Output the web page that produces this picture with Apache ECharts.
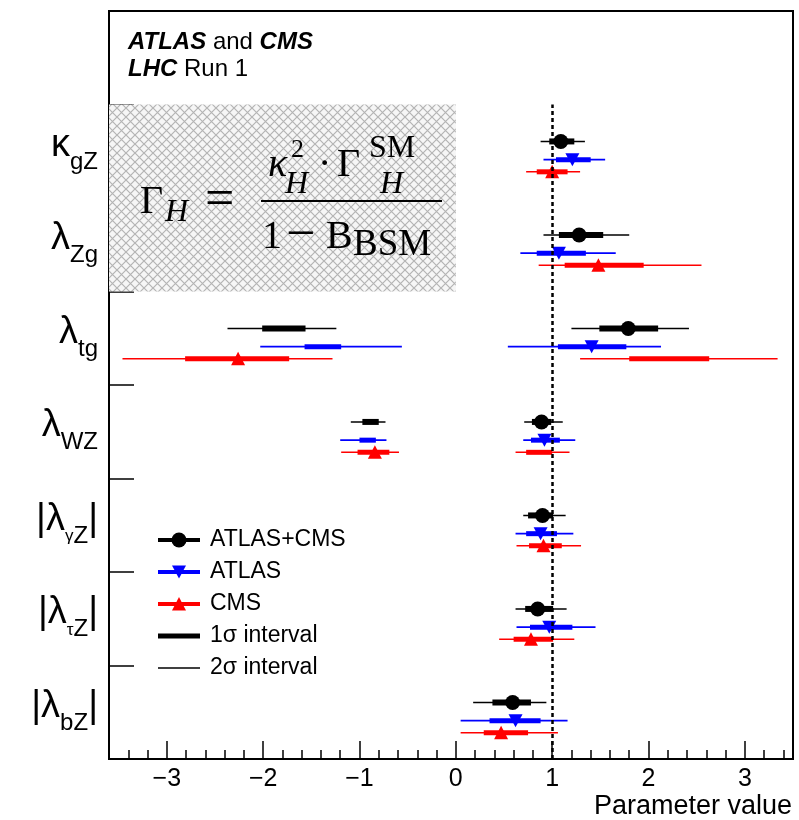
<!DOCTYPE html>
<html>
<head>
<meta charset="utf-8">
<script src="https://cdn.jsdelivr.net/npm/echarts@6/dist/echarts.min.js"></script>
<style>
  html, body { margin: 0; padding: 0; background: #fff; }
  #chart { width: 799px; height: 820px; }
</style>
</head>
<body>
<div id="chart"></div>
<script>
// Coupling-ratio parameters, listed from the bottom row to the top row
const rowGreek = ['λ', 'λ', 'λ', 'λ', 'λ', 'λ', 'κ'];
const rowSubGreek = ['', 'τ', 'γ', '', '', '', ''];
const rowSub = ['bZ', 'Z', 'Z', 'WZ', 'tg', 'Zg', 'gZ'];
const rowAbs = [true, true, true, false, false, false, false];

// ATLAS+CMS combination: best fit, 1σ and 2σ intervals (may be split in two branches)
const combBest = [0.59, 0.85, 0.90, 0.89, 1.79, 1.28, 1.09];
const comb1s = [[[0.38, 0.78]], [[0.72, 1.01]], [[0.75, 1.01]], [[-0.97, -0.80], [0.79, 0.99]], [[-2.01, -1.56], [1.49, 2.10]], [[1.07, 1.53]], [[0.97, 1.23]]];
const comb2s = [[[0.18, 0.94]], [[0.62, 1.15]], [[0.70, 1.14]], [[-1.09, -0.73], [0.71, 1.11]], [[-2.37, -1.24], [1.20, 2.42]], [[0.91, 1.80]], [[0.88, 1.34]]];

// ATLAS
const atlasBest = [0.62, 0.97, 0.88, 0.92, 1.41, 1.07, 1.21];
const atlas1s = [[[0.35, 0.88]], [[0.77, 1.21]], [[0.73, 1.05]], [[-1.00, -0.83], [0.78, 1.08]], [[-1.57, -1.19], [1.06, 1.77]], [[0.84, 1.35]], [[1.04, 1.40]]];
const atlas2s = [[[0.05, 1.16]], [[0.63, 1.45]], [[0.62, 1.22]], [[-1.20, -0.72], [0.70, 1.24]], [[-2.03, -0.56], [0.54, 2.13]], [[0.67, 1.66]], [[0.91, 1.55]]];

// CMS
const cmsBest = [0.47, 0.78, 0.91, -0.84, -2.26, 1.48, 1.00];
const cms1s = [[[0.29, 0.75]], [[0.60, 1.01]], [[0.76, 1.10]], [[-1.02, -0.69], [0.73, 1.00]], [[-2.81, -1.73], [1.80, 2.63]], [[1.13, 1.95]], [[0.84, 1.16]]];
const cms2s = [[[0.05, 1.06]], [[0.45, 1.23]], [[0.63, 1.30]], [[-1.19, -0.59], [0.62, 1.18]], [[-3.46, -1.28], [1.29, 3.34]], [[0.86, 2.55]], [[0.73, 1.29]]];

// Axis ticks
const majorTicks = [-3, -2, -1, 0, 1, 2, 3];
const minorTicks = [-3.4, -3.2, -2.8, -2.6, -2.4, -2.2, -1.8, -1.6, -1.4, -1.2, -0.8, -0.6, -0.4, -0.2,
  0.2, 0.4, 0.6, 0.8, 1.2, 1.4, 1.6, 1.8, 2.2, 2.4, 2.6, 2.8, 3.2, 3.4];

const FONT = '"Liberation Sans", Arial, Helvetica, sans-serif';
const SERIF = '"Liberation Serif", "Times New Roman", serif';

// y-axis category labels built as rich text with subscripts
const yLabels = rowGreek.map((g, i) => {
  const bar = rowAbs[i] ? '|' : '';
  const sg = rowSubGreek[i] ? '{sg|' + rowSubGreek[i] + '}' : '';
  return '{g|' + bar + g + '}' + sg + '{s|' + rowSub[i] + '}' + (bar ? '{g|' + bar + '}' : '');
});
yLabels.push('');

// crosshatch fill
function hatchPattern() {
  const n = 9;
  const c = document.createElement('canvas');
  c.width = n; c.height = n;
  const ctx = c.getContext('2d');
  ctx.fillStyle = '#f6f6f6';
  ctx.fillRect(0, 0, n, n);
  ctx.strokeStyle = '#b4b4b4';
  ctx.lineWidth = 1.2;
  ctx.beginPath();
  ctx.moveTo(-1, -1); ctx.lineTo(n + 1, n + 1);
  ctx.moveTo(n + 1, -1); ctx.lineTo(-1, n + 1);
  ctx.stroke();
  return { image: c, repeat: 'repeat' };
}

function markerShape(kind, x, y, color, z) {
  const base = { z: z || 0, style: { fill: color } };
  if (kind === 'circle') {
    return Object.assign(base, { type: 'circle', shape: { cx: x, cy: y, r: 7.5 } });
  }
  if (kind === 'down') {
    return Object.assign(base, { type: 'polygon', shape: { points: [[x - 7, y - 6.5], [x + 7, y - 6.5], [x, y + 6.5]] } });
  }
  return Object.assign(base, { type: 'polygon', shape: { points: [[x - 7, y + 6.5], [x + 7, y + 6.5], [x, y - 7]] } });
}

function errorSeries(name, best, s1, s2, offset, marker, color, thickW) {
  return {
    name: name,
    type: 'custom',
    xAxisIndex: 0,
    yAxisIndex: 0,
    z: 3,
    silent: true,
    data: best.map((b, i) => [b, i + offset]),
    renderItem: function (params, api) {
      const i = params.dataIndex;
      const yv = i + offset;
      const children = [];
      s2[i].forEach(seg => {
        const a = api.coord([seg[0], yv]);
        const b = api.coord([seg[1], yv]);
        children.push({ type: 'line', shape: { x1: a[0], y1: a[1], x2: b[0], y2: b[1] }, style: { stroke: color, lineWidth: 1.6 } });
      });
      s1[i].forEach(seg => {
        const a = api.coord([seg[0], yv]);
        const b = api.coord([seg[1], yv]);
        children.push({ type: 'line', shape: { x1: a[0], y1: a[1], x2: b[0], y2: b[1] }, style: { stroke: color, lineWidth: thickW } });
      });
      const p = api.coord([best[i], yv]);
      children.push(markerShape(marker, p[0], p[1], color));
      return { type: 'group', children: children };
    }
  };
}

// legend drawn as a small block of graphic elements
function legendRow(y, kind, color, lw, label) {
  const ch = [
    { type: 'line', z: 20, shape: { x1: 158, y1: y, x2: 200, y2: y }, style: { stroke: color, lineWidth: lw } },
    { type: 'text', z: 20, style: { text: label, x: 210, y: y, textVerticalAlign: 'middle', font: '23px ' + FONT, fill: '#000' } }
  ];
  if (kind) ch.push(markerShape(kind, 179, y, color, 21));
  return ch;
}

const legendChildren = [].concat(
  legendRow(540, 'circle', '#000', 4, 'ATLAS+CMS'),
  legendRow(572, 'down', '#0000ff', 4, 'ATLAS'),
  legendRow(604, 'up', '#ff0000', 4, 'CMS'),
  legendRow(636, null, '#000', 5, '1σ interval'),
  legendRow(668, null, '#000', 1.5, '2σ interval')
);

// Γ_H formula pieces: [text, x, baseline, size, italic]
const formulaPieces = [
  ['Γ', 140, 213, 40, false],
  ['H', 165, 221, 32, true],
  ['=', 205, 215, 52, false],
  ['κ', 268, 176, 40, true],
  ['2', 291, 157, 26, false],
  ['H', 285, 193, 32, true],
  ['·', 318, 176, 40, false],
  ['Γ', 337, 176, 40, false],
  ['SM', 369, 157, 32, false],
  ['H', 380, 193, 32, true],
  ['1', 262, 248, 40, false],
  ['−', 286, 250, 52, false],
  ['B', 326, 248, 40, false],
  ['BSM', 353, 255, 37, false]
];
// text is placed from its top edge; the baseline sits about 0.76 em below it
const formulaChildren = formulaPieces.map(p => ({
  type: 'text',
  z: 20,
  style: {
    text: p[0], x: p[1], y: p[2] - 0.76 * p[3], textVerticalAlign: 'top',
    font: (p[4] ? 'italic ' : '') + p[3] + 'px ' + SERIF, fill: '#000'
  }
}));
formulaChildren.push({ type: 'line', z: 20, shape: { x1: 261, y1: 201, x2: 442, y2: 201 }, style: { stroke: '#000', lineWidth: 2 } });

const chart = echarts.init(document.getElementById('chart'), null, { renderer: 'canvas' });

chart.setOption({
  backgroundColor: '#fff',
  animation: false,
  grid: { left: 109, right: 6, top: 11, bottom: 61, show: true, borderColor: '#000', borderWidth: 2, containLabel: false },
  xAxis: [
    {
      type: 'value', min: -3.6, max: 3.5, position: 'bottom',
      axisLine: { show: true, onZero: false, lineStyle: { color: '#000', width: 2 } },
      axisTick: { show: true, inside: true, length: 18, customValues: majorTicks, lineStyle: { color: '#000', width: 1.5 } },
      axisLabel: {
        show: true, customValues: majorTicks, margin: 8, color: '#000', fontSize: 25, fontFamily: FONT,
        formatter: v => (v < 0 ? '−' + Math.abs(v) : String(v))
      },
      splitLine: { show: false }
    },
    {
      type: 'value', min: -3.6, max: 3.5, position: 'bottom',
      axisLine: { show: false, onZero: false },
      axisTick: { show: true, inside: true, length: 9, customValues: minorTicks, lineStyle: { color: '#000', width: 1.5 } },
      axisLabel: { show: false },
      splitLine: { show: false }
    }
  ],
  yAxis: [
    {
      type: 'value', min: 0, max: 8, interval: 1, position: 'left',
      axisLine: { show: true, onZero: false, lineStyle: { color: '#000', width: 2 } },
      axisTick: { show: true, inside: true, length: 25, lineStyle: { color: '#000', width: 1.5 } },
      axisLabel: { show: false },
      splitLine: { show: false }
    },
    {
      type: 'category', data: yLabels, position: 'left',
      axisLine: { show: false, onZero: false },
      axisTick: { show: false },
      splitLine: { show: false },
      axisLabel: {
        show: true, margin: 11, interval: 0, color: '#000', padding: [8, 0, 0, 0],
        rich: {
          g: { fontSize: 38, fontFamily: FONT, lineHeight: 38, verticalAlign: 'bottom', padding: [0, 0, 10, 0], color: '#000' },
          s: { fontSize: 24, fontFamily: FONT, lineHeight: 24, verticalAlign: 'bottom', color: '#000' },
          sg: { fontSize: 17, fontFamily: FONT, lineHeight: 17, verticalAlign: 'bottom', padding: [0, 0, 3, 0], color: '#000' }
        }
      }
    }
  ],
  series: [
    {
      name: 'box', type: 'line', data: [], silent: true, z: 1,
      markArea: {
        silent: true,
        itemStyle: { color: hatchPattern(), borderWidth: 0 },
        data: [[{ xAxis: -3.6, yAxis: 5 }, { xAxis: 0, yAxis: 7 }]]
      }
    },
    errorSeries('ATLAS+CMS', combBest, comb1s, comb2s, 0.605, 'circle', '#000000', 6),
    errorSeries('ATLAS', atlasBest, atlas1s, atlas2s, 0.41, 'down', '#0000ff', 5),
    errorSeries('CMS', cmsBest, cms1s, cms2s, 0.28, 'up', '#ff0000', 5),
    {
      name: 'SM', type: 'line', data: [], silent: true, z: 5,
      markLine: {
        silent: true, symbol: ['none', 'none'], label: { show: false },
        lineStyle: { color: '#000', width: 2.5, type: [4, 3] },
        data: [[{ coord: [1, 0] }, { coord: [1, 7] }]]
      }
    }
  ],
  graphic: [
    {
      type: 'text', left: 128, top: 30, z: 20,
      style: {
        text: '{b|ATLAS} and {b|CMS}', font: '24px ' + FONT, fill: '#000',
        rich: { b: { fontStyle: 'italic', fontWeight: 'bold', fontSize: 24, fontFamily: FONT } }
      }
    },
    {
      type: 'text', left: 128, top: 57, z: 20,
      style: {
        text: '{b|LHC} Run 1', font: '24px ' + FONT, fill: '#000',
        rich: { b: { fontStyle: 'italic', fontWeight: 'bold', fontSize: 24, fontFamily: FONT } }
      }
    },
    { type: 'group', children: formulaChildren },
    { type: 'group', children: legendChildren },
    {
      type: 'text', right: 7, bottom: 0, z: 20,
      style: { text: 'Parameter value', font: '27px ' + FONT, fill: '#000' }
    }
  ]
});
</script>
</body>
</html>
